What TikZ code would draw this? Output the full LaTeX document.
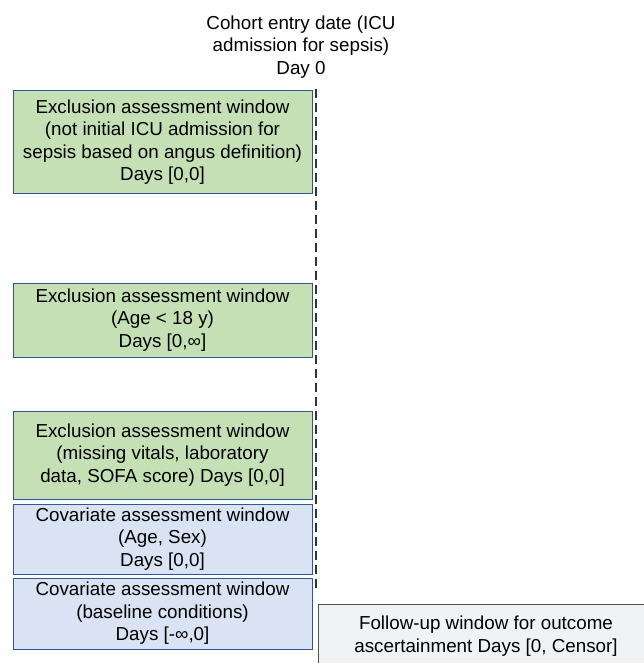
\documentclass[tikz,border=0pt]{standalone}
\usepackage{fontspec}
\setmainfont{Liberation Sans}
\usetikzlibrary{positioning}
\definecolor{exclfill}{HTML}{C5E0B4}
\definecolor{covfill}{HTML}{DAE3F3}
\definecolor{boxborder}{HTML}{2F5597}
\definecolor{followfill}{HTML}{F1F2F4}
\definecolor{followborder}{HTML}{505050}
\tikzset{
    % Colors
    exclusion color/.style={fill=exclfill},
    covariate color/.style={fill=covfill},
    %
    % Windows
    window/.style={draw=boxborder,line width=1pt,inner sep=0pt,align=center,
        minimum width=299pt,font=\fontsize{18.8}{22.5}\selectfont},
    excl window/.style={window,exclusion color},
    cov window/.style={window,covariate color},
    follow window/.style={window,draw=followborder,fill=followfill,minimum width=336pt},
    %
    % Time line
    day zero line/.style={dashed,dash pattern=on 9pt off 5pt,line width=1.2pt,black!80}
}

\begin{document}
\begin{tikzpicture}[x=1pt,y=-1pt]
        \useasboundingbox (0,0) rectangle (644,663);
        \clip (0,0) rectangle (644,663);
        \node[align=center,font=\fontsize{18.8}{22.5}\selectfont] (entry) at (301,47)
            {Cohort entry date (ICU\\admission for sepsis)\\Day 0};
        \coordinate (linetop) at (316,89);
        \coordinate (linebottom) at (316,592);
        \draw[day zero line] (linetop) -- (linebottom);
        \node[excl window,minimum height=102pt] (angus) at (162.5,142)
            {Exclusion assessment window\\(not initial ICU admission for\\sepsis based on angus definition)\\Days [0,0]};
        \node[excl window,minimum height=74pt] (age) at (162.5,320)
            {Exclusion assessment window\\(Age < 18 y)\\Days [0,∞]};
        \node[excl window,minimum height=88pt] (missing) at (162.5,455)
            {Exclusion assessment window\\(missing vitals, laboratory\\data, SOFA score) Days [0,0]};
        \node[cov window,minimum height=70pt] (agesex) at (162.5,539)
            {Covariate assessment window\\(Age, Sex)\\Days [0,0]};
        \node[cov window,minimum height=71pt] (baseline) at (162.5,613.5)
            {Covariate assessment window\\(baseline conditions)\\Days [-∞,0]};
        \node[follow window,minimum height=64pt] (followup) at (486,636)
            {Follow-up window for outcome\\ascertainment Days [0, Censor]};
    \end{tikzpicture}
\end{document}
